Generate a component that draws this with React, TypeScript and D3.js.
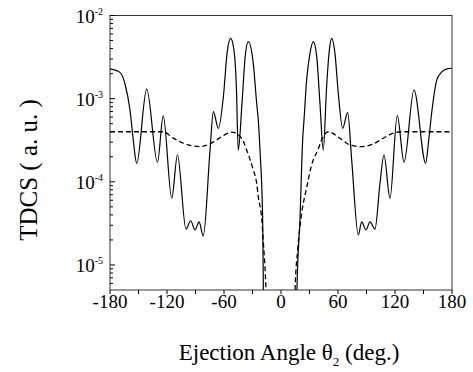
import React from "react";
import * as d3 from "d3";

// Solid curve (angle in deg, TDCS a.u.)
const solidAngles = [
  -180, -169.5, -164.2, -158.9, -155.4, -151.9, -141.4, -130, -124, -115, -109,
  -100, -95.1, -90.5, -86.3, -81.8, -74.7, -71.2, -66, -60.3, -56.8, -53, -49.5,
  -47, -45, -41, -37.8, -34.4, -29.2, -25.6, -23.9, -22.1, -19.3, -18.6, -17.5, 0,
  16, 16.8, 20, 22.8, 24.2, 27, 30.5, 34, 37.6, 41, 44.5, 48, 50.9, 53.4, 56.8,
  60.3, 64.9, 70.2, 74.4, 81.4, 84.9, 89.5, 93.7, 98.9, 104.2, 108.4, 114.7,
  122.4, 129.5, 140, 152.3, 155.4, 158.9, 164, 169.5, 174.8, 180,
];
const solidValues = [
  2.28e-3, 2.07e-3, 1.5e-3, 7.2e-4, 3.1e-4, 1.66e-4, 1.3e-3, 1.72e-4, 6.2e-4, 6.35e-5, 2.1e-4,
  2.7e-5, 3.4e-5, 2.64e-5, 3.3e-5, 2.24e-5, 2.4e-4, 7.0e-4, 4.4e-4, 1.16e-3, 3.5e-3, 5.3e-3, 3.8e-3,
  1.4e-3, 2.4e-4, 9.0e-4, 3.1e-3, 4.85e-3, 2.66e-3, 8.8e-4, 5.5e-4, 2.4e-4, 3.6e-5, 5.3e-6, 1e-6, 1e-9,
  1e-6, 5.0e-6, 3.6e-5, 3.2e-4, 5.5e-4, 1.68e-3, 3.5e-3, 4.84e-3, 3.2e-3, 8.8e-4, 2.4e-4, 1.39e-3, 3.85e-3, 5.3e-3, 3.5e-3,
  1.16e-3, 4.4e-4, 6.8e-4, 1.83e-4, 2.3e-5, 3.3e-5, 2.64e-5, 3.3e-5, 2.7e-5, 9.6e-5, 2.1e-4, 6.35e-5,
  6.25e-4, 1.72e-4, 1.27e-3, 1.67e-4, 3.1e-4, 7.2e-4, 1.68e-3, 2.11e-3, 2.28e-3, 2.32e-3,
];

// Dashed curve
const dashedAngles = [
  -180, -124, -113.4, -102.8, -85.3, -71.3, -60.7, -51.9, -41.4, -36.1, -29.2,
  -25.6, -23.9, -20.3, -18.6, -15.8, -14, 0, 14, 14.8, 17.5, 21.8, 27, 32.3,
  39.3, 42.8, 49.8, 62, 72.6, 83.2, 97, 107.7, 118.2, 125.3, 180,
];
const dashedValues = [
  4.0e-4, 4.0e-4, 3.35e-4, 2.91e-4, 2.65e-4, 3.0e-4, 3.6e-4, 3.95e-4, 3.34e-4, 2.4e-4, 1.39e-4,
  9.6e-5, 6.6e-5, 3.6e-5, 1.9e-5, 5e-6, 1e-6, 1e-9, 1e-6, 5e-6, 1.5e-5, 4.2e-5, 8.5e-5, 1.6e-4,
  2.5e-4, 3.2e-4, 4.0e-4, 3.34e-4, 2.78e-4, 2.65e-4, 2.85e-4, 3.34e-4, 3.84e-4, 4.0e-4, 4.0e-4,
];

const xTicks = [-180, -150, -120, -90, -60, -30, 0, 30, 60, 90, 120, 150, 180];
const xTickLabels = [-180, -120, -60, 0, 60, 120, 180];
const yDecades = [-5, -4, -3, -2];

const W = 473;
const H = 372;
const L = 110, R = 452, T = 15.5, B = 290;

export default function App() {
  const x = d3.scaleLinear().domain([-180, 180]).range([L, R]);
  const y = d3.scaleLog().domain([5e-6, 1e-2]).range([B, T]);

  const line = d3
    .line<[number, number]>()
    .x((d) => x(d[0]))
    .y((d) => y(d[1]))
    .curve(d3.curveMonotoneX);

  const solid = line(solidAngles.map((a, i) => [a, solidValues[i]]) as [number, number][]) || "";
  const dashed = line(dashedAngles.map((a, i) => [a, dashedValues[i]]) as [number, number][]) || "";

  const minor: number[] = [];
  for (let m = 6; m <= 9; m++) minor.push(m * 1e-6);
  for (const e of [-5, -4, -3]) for (let m = 2; m <= 9; m++) minor.push(m * Math.pow(10, e));

  const font = "'Liberation Serif', 'Times New Roman', serif";

  return (
    <svg width={W} height={H} style={{ position: "absolute", left: 0, top: 0 }} fontFamily={font}>
      <rect width={W} height={H} fill="#fff" />
      <defs>
        <clipPath id="plot">
          <rect x={L} y={T} width={R - L} height={B - T} />
        </clipPath>
      </defs>
      <g clipPath="url(#plot)" fill="none">
        <path d={dashed} stroke="#000" strokeWidth={1.3} strokeDasharray="5,3" />
        <path d={solid} stroke="#000" strokeWidth={1.2} />
      </g>
      {/* frame */}
      <rect x={L} y={T} width={R - L} height={B - T} fill="none" stroke="#333" strokeWidth={1} />
      {/* y ticks */}
      {yDecades.map((e) => (
        <line key={"M" + e} x1={L} x2={L + 5} y1={y(Math.pow(10, e))} y2={y(Math.pow(10, e))} stroke="#000" />
      ))}
      {minor.map((v, i) => (
        <line key={"m" + i} x1={L} x2={L + 3} y1={y(v)} y2={y(v)} stroke="#000" />
      ))}
      {yDecades.map((e) => (
        <text key={"yl" + e} x={103} y={y(Math.pow(10, e)) + 7} textAnchor="end" fontSize={19}>
          10
          <tspan dy={-8} fontSize={10}>
            {String(e)}
          </tspan>
        </text>
      ))}
      {/* x ticks */}
      {xTicks.map((t) => (
        <line key={"xt" + t} x1={x(t)} x2={x(t)} y1={B} y2={B + 4} stroke="#000" />
      ))}
      {xTickLabels.map((t) => (
        <text key={"xl" + t} x={x(t)} y={308} textAnchor="middle" fontSize={19}>
          {String(t)}
        </text>
      ))}
      {/* axis titles */}
      <text transform={`translate(37,170) rotate(-90)`} textAnchor="middle" fontSize={25}>
        TDCS ( a. u. )
      </text>
      <text x={289} y={360} textAnchor="middle" fontSize={23}>
        Ejection Angle θ<tspan dy={6} fontSize={13}>2</tspan>
        <tspan dy={-6}> (deg.)</tspan>
      </text>
    </svg>
  );
}
